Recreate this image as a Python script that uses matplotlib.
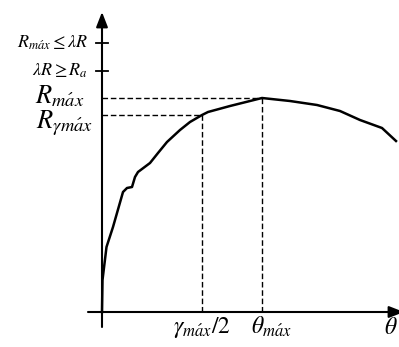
import matplotlib.pyplot as plt

plt.rcParams['mathtext.fontset'] = 'stix'

# curve (arbitrary units)
theta = [0, 0.5, 4.5, 11, 21, 25, 30, 33, 36, 48, 56, 65, 78, 88, 100, 106,
         128, 160, 188, 215, 238, 258, 280, 294]
R = [0, 32, 65, 85, 120, 124, 125, 135, 140, 149, 159, 170, 182, 190, 197, 200,
     206, 214, 211, 207, 201, 192, 184, 171]

theta_max = 160
R_max = 214
gamma_half = 100
R_gmax = 197
tick_upper = 269
tick_lower = 241

fig = plt.figure(figsize=(3.99, 3.47), dpi=100)
ax = fig.add_axes([0, 0, 1, 1])
ax.set_xlim(-102, 297)
ax.set_ylim(-35, 312)
ax.axis('off')

# axes with arrow heads
arrow = dict(arrowstyle='-|>,head_length=0.9,head_width=0.35',
             color='black', lw=1.5, shrinkA=0, shrinkB=0)
ax.annotate('', xy=(302, 0), xytext=(-14, 0), arrowprops=arrow, annotation_clip=False)
ax.annotate('', xy=(0, 300), xytext=(0, -15), arrowprops=arrow, annotation_clip=False)

# small ticks on the y axis
for yt in [tick_upper, tick_lower]:
    ax.plot([-6, 6], [yt, yt], color='black', lw=1.3)

# dashed guides
ax.plot([0, theta_max], [R_max, R_max], color='black', lw=1, dashes=(4, 2))
ax.plot([theta_max, theta_max], [0, R_max], color='black', lw=1, dashes=(4, 2))
ax.plot([0, gamma_half], [R_gmax, R_gmax], color='black', lw=1, dashes=(4, 2))
ax.plot([gamma_half, gamma_half], [0, R_gmax], color='black', lw=1, dashes=(4, 2))

# curve
ax.plot(theta, R, color='black', lw=1.8)

# labels on y
ax.text(-14, tick_upper, r'$R_{m\acute{a}x}\leq\lambda R$', ha='right', va='center', fontsize=13)
ax.text(-14, tick_lower, r'$\lambda R\geq R_a$', ha='right', va='center', fontsize=13)
ax.text(-18, R_max + 2, r'$R_{m\acute{a}x}$', ha='right', va='center', fontsize=19)
ax.text(-9, R_gmax - 8, r'$R_{\gamma m\acute{a}x}$', ha='right', va='center', fontsize=19)

# labels on x
ax.text(gamma_half, -15, r'$\gamma_{m\acute{a}x}/2$', ha='center', va='center', fontsize=17)
ax.text(169, -15, r'$\theta_{m\acute{a}x}$', ha='center', va='center', fontsize=17)
ax.text(282, -15, r'$\theta$', ha='left', va='center', fontsize=17)

fig.savefig('out.png', dpi=100)
